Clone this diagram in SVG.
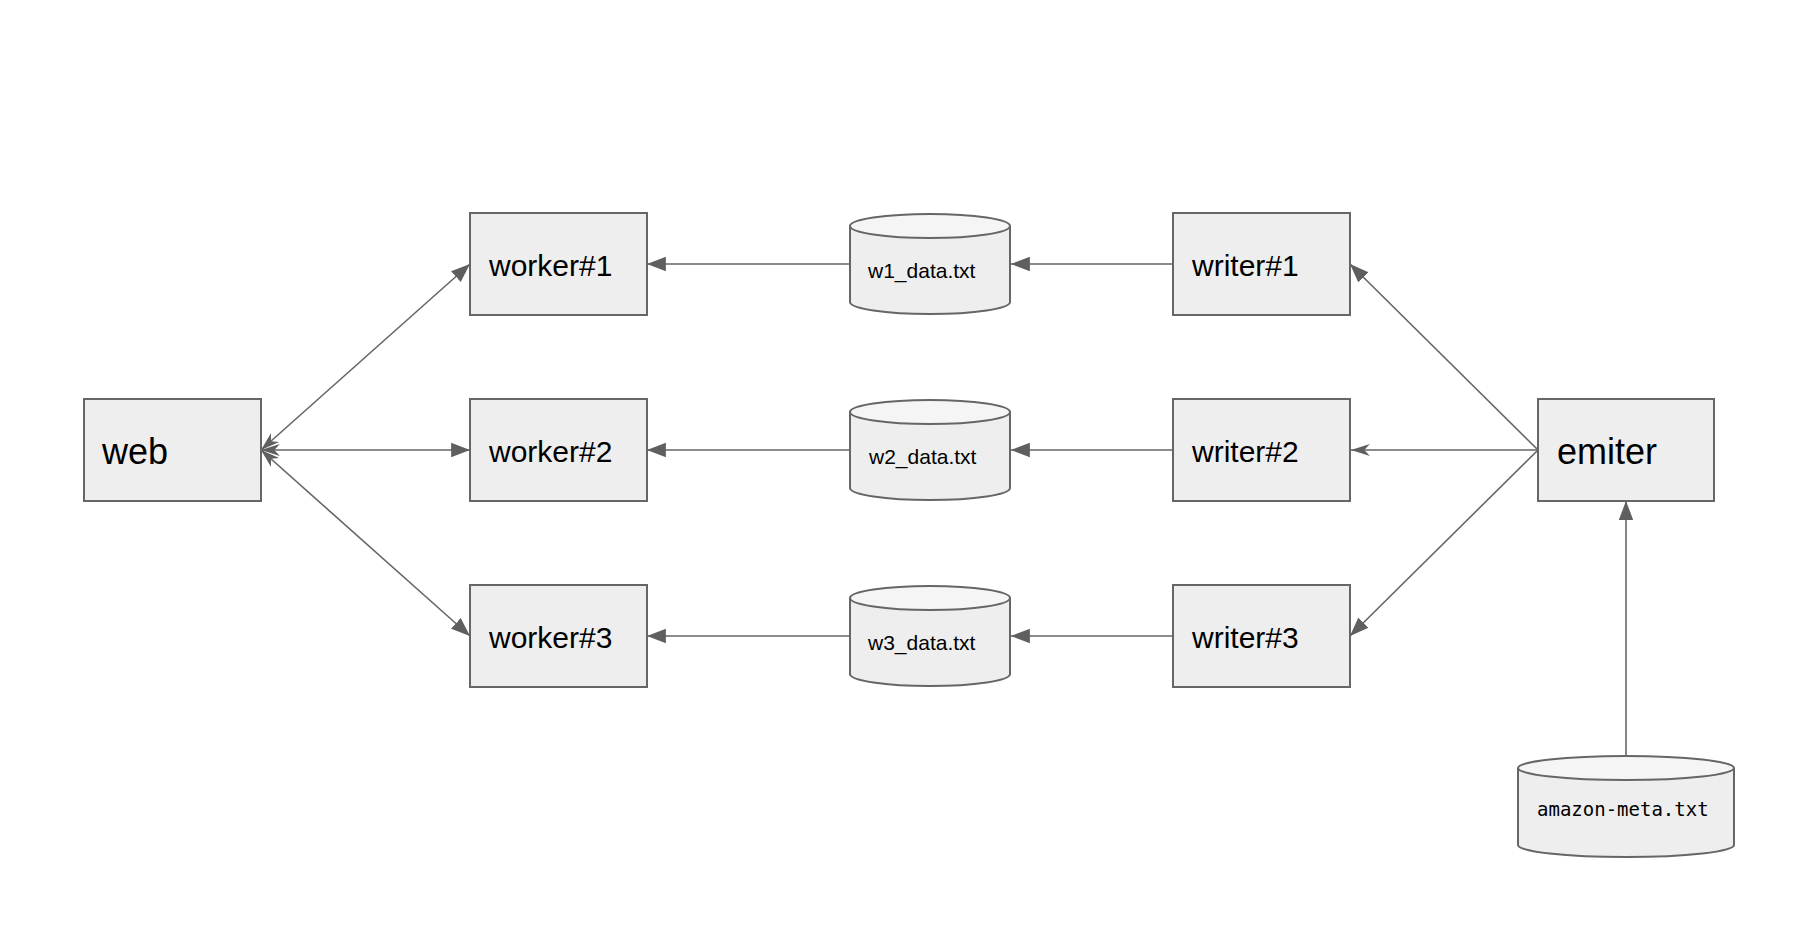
<svg xmlns="http://www.w3.org/2000/svg" width="1806" height="928" viewBox="0 0 1806 928">
<style>
.box{fill:#eeeeee;stroke:#666666;stroke-width:2}
.cyl{fill:#eeeeee;stroke:#666666;stroke-width:2}
.cyltop{fill:#f5f5f5;stroke:#666666;stroke-width:2}
.lbl{font-family:"Liberation Sans",Arial,sans-serif;font-size:30px;fill:#000}
.big{font-family:"Liberation Sans",Arial,sans-serif;font-size:36px;fill:#000}
.small{font-family:"Liberation Sans",Arial,sans-serif;font-size:21px;fill:#000}
.mono{font-family:"DejaVu Sans Mono","Liberation Mono",monospace;font-size:19px;fill:#000}
.conn{fill:none;stroke:#666666;stroke-width:1.6}
</style>
<defs>
<marker id="block" markerUnits="userSpaceOnUse" markerWidth="20" markerHeight="16" viewBox="0 0 18 14" refX="17" refY="7" orient="auto">
<path d="M0,0.5 L17,7 L0,13.5 z" fill="#5f5f5f"/>
</marker>
<marker id="classic" markerUnits="userSpaceOnUse" markerWidth="20" markerHeight="16" viewBox="0 0 18 14" refX="17" refY="7" orient="auto-start-reverse">
<path d="M0,1.5 L17,7 L0,12.5 L5,7 z" fill="#5f5f5f"/>
</marker>
</defs>
<rect width="1806" height="928" fill="#ffffff"/>
<g id="connectors">
<path class="conn" d="M261,450 L470,264" marker-start="url(#classic)" marker-end="url(#block)"/>
<path class="conn" d="M261,450 L470,450" marker-start="url(#classic)" marker-end="url(#block)"/>
<path class="conn" d="M261,450 L470,636" marker-start="url(#classic)" marker-end="url(#block)"/>
<path class="conn" d="M850,264 L647,264" marker-end="url(#block)"/>
<path class="conn" d="M850,450 L647,450" marker-end="url(#block)"/>
<path class="conn" d="M850,636 L647,636" marker-end="url(#block)"/>
<path class="conn" d="M1173,264 L1011,264" marker-end="url(#block)"/>
<path class="conn" d="M1173,450 L1011,450" marker-end="url(#block)"/>
<path class="conn" d="M1173,636 L1011,636" marker-end="url(#block)"/>
<path class="conn" d="M1538,450 L1350,264" marker-end="url(#block)"/>
<path class="conn" d="M1538,450 L1351,450" marker-end="url(#classic)"/>
<path class="conn" d="M1538,450 L1350,636" marker-end="url(#block)"/>
<path class="conn" d="M1626,756 L1626,501" marker-end="url(#block)"/>
</g>
<g id="web">
<rect class="box" x="84" y="399" width="177" height="102"/>
<text class="big" x="102" y="464">web</text>
</g>
<g id="worker1">
<rect class="box" x="470" y="213" width="177" height="102"/>
<text class="lbl" x="489" y="276">worker#1</text>
</g>
<g id="worker2">
<rect class="box" x="470" y="399" width="177" height="102"/>
<text class="lbl" x="489" y="462">worker#2</text>
</g>
<g id="worker3">
<rect class="box" x="470" y="585" width="177" height="102"/>
<text class="lbl" x="489" y="648">worker#3</text>
</g>
<g id="w1data">
<path class="cyl" d="M850,226 L850,302 A80,12 0 0 0 1010,302 L1010,226"/>
<ellipse class="cyltop" cx="930" cy="226" rx="80" ry="12"/>
<text class="small" x="868" y="278">w1_data.txt</text>
</g>
<g id="w2data">
<path class="cyl" d="M850,412 L850,488 A80,12 0 0 0 1010,488 L1010,412"/>
<ellipse class="cyltop" cx="930" cy="412" rx="80" ry="12"/>
<text class="small" x="869" y="464">w2_data.txt</text>
</g>
<g id="w3data">
<path class="cyl" d="M850,598 L850,674 A80,12 0 0 0 1010,674 L1010,598"/>
<ellipse class="cyltop" cx="930" cy="598" rx="80" ry="12"/>
<text class="small" x="868" y="650">w3_data.txt</text>
</g>
<g id="writer1">
<rect class="box" x="1173" y="213" width="177" height="102"/>
<text class="lbl" x="1192" y="276">writer#1</text>
</g>
<g id="writer2">
<rect class="box" x="1173" y="399" width="177" height="102"/>
<text class="lbl" x="1192" y="462">writer#2</text>
</g>
<g id="writer3">
<rect class="box" x="1173" y="585" width="177" height="102"/>
<text class="lbl" x="1192" y="648">writer#3</text>
</g>
<g id="emiter">
<rect class="box" x="1538" y="399" width="176" height="102"/>
<text class="big" x="1557" y="464">emiter</text>
</g>
<g id="amazonmeta">
<path class="cyl" d="M1518,768 L1518,845 A108,12 0 0 0 1734,845 L1734,768"/>
<ellipse class="cyltop" cx="1626" cy="768" rx="108" ry="12"/>
<text class="mono" x="1537" y="816">amazon-meta.txt</text>
</g>
</svg>
